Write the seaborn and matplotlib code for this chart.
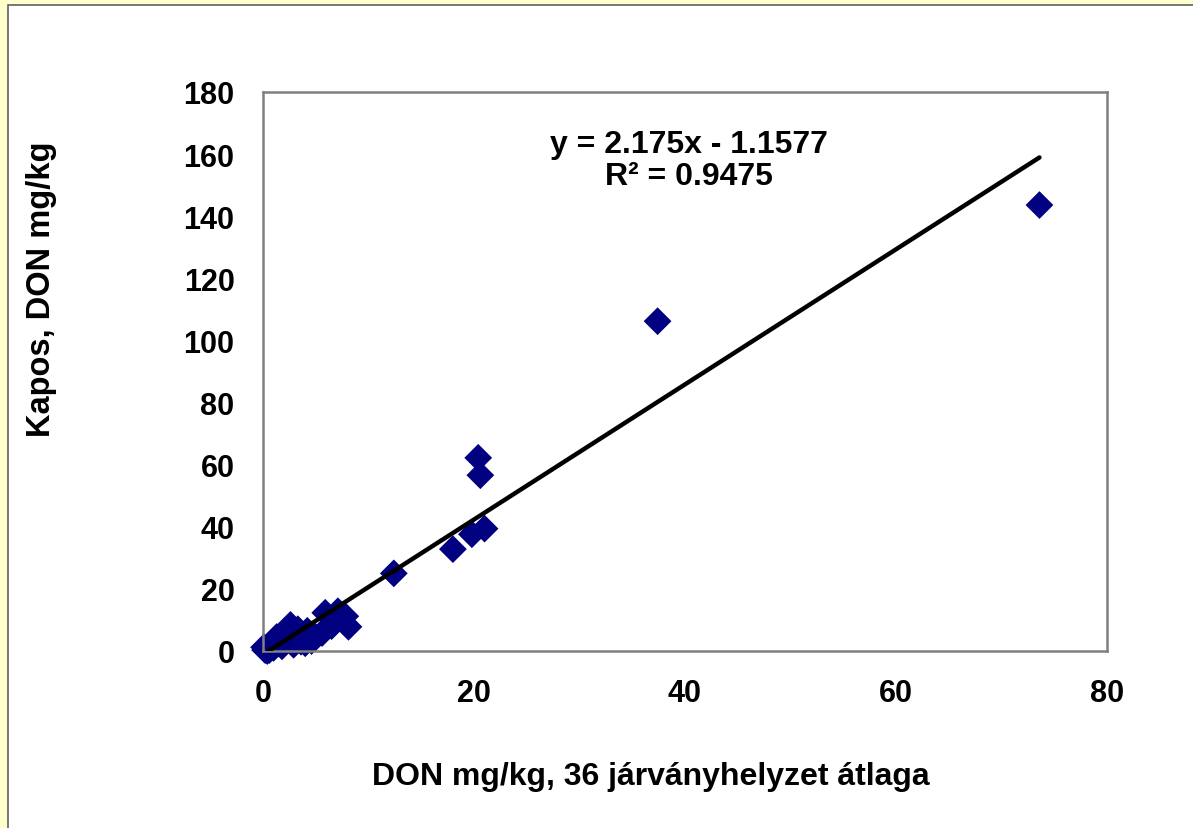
import matplotlib
matplotlib.use("Agg")
import matplotlib.pyplot as plt
import seaborn as sns
import pandas as pd
import numpy as np
from matplotlib.patches import Rectangle

# ---- data ----
x_vals = [73.6, 37.4, 20.4, 20.6, 21.0, 19.8, 18.0, 12.4, 8.1, 7.8, 7.1, 5.9,
          5.6, 5.0, 4.6, 4.2, 3.6, 3.3, 3.0, 2.6, 2.4, 2.0, 1.8, 1.5,
          1.3, 1.0, 0.8, 0.6, 0.5, 0.4, 0.3, 0.2, 0.1, 6.5, 2.9, 4.0]
y_vals = [143.6, 106.2, 62.2, 56.6, 39.4, 37.6, 32.8, 25.0, 7.8, 11.2, 12.8, 12.3,
          5.8, 4.5, 3.2, 6.5, 3.0, 7.0, 5.0, 8.4, 5.5, 3.5, 1.5, 2.5,
          4.5, 1.0, 2.5, 0.3, 1.5, 0.0, 0.8, 0.3, 1.2, 8.0, 2.0, 2.5]
slope = 2.175
intercept = -1.1577
r2 = 0.9475
x_ticks = [0, 20, 40, 60, 80]
y_ticks = [0, 20, 40, 60, 80, 100, 120, 140, 160, 180]
x_label = "DON mg/kg, 36 járványhelyzet átlaga"
y_label = "Kapos, DON mg/kg"

df = pd.DataFrame({"x": x_vals, "y": y_vals})
xmin, xmax = min(x_vals), max(x_vals)
trend = pd.DataFrame({"x": [xmin, xmax],
                      "y": [slope * xmin + intercept, slope * xmax + intercept]})

sns.set_style("white")
plt.rcParams['font.family'] = ['Liberation Sans', 'DejaVu Sans']
plt.rcParams['font.weight'] = 'bold'
plt.rcParams['text.color'] = 'black'
plt.rcParams['axes.labelcolor'] = 'black'

W, H = 1193, 829
fig = plt.figure(figsize=(W / 100, H / 100), dpi=100)
fig.patch.set_facecolor('#FFFFCC')
bg = Rectangle((8 / W, -0.1), 1, 1.1 - 6 / H, transform=fig.transFigure,
               facecolor='white', edgecolor='#606060', linewidth=1.2, zorder=-10)
fig.add_artist(bg)

L, R, T, B = 263, 1107, 93, 652
ax = fig.add_axes([L / W, 1 - B / H, (R - L) / W, (B - T) / H])
ax.set_facecolor('white')

sns.lineplot(data=trend, x="x", y="y", ax=ax, color='black', linewidth=3.2,
             solid_capstyle='round', zorder=3)
sns.scatterplot(data=df, x="x", y="y", ax=ax, marker='D', s=200, color='#000080',
                edgecolor='none', linewidth=0, clip_on=False, zorder=2)

ax.set_xlim(0, 80)
ax.set_ylim(0, 180)
ax.set_xticks(x_ticks)
ax.set_yticks(y_ticks)
ax.tick_params(axis='both', direction='out', length=7.5, width=1.5, color='#808080',
               labelsize=22, labelcolor='black')
ax.tick_params(axis='y', pad=13)
ax.tick_params(axis='x', pad=12)
for lab in ax.get_xticklabels() + ax.get_yticklabels():
    lab.set_fontweight('bold')
for sp in ax.spines.values():
    sp.set_visible(True)
    sp.set_color('#808080')
    sp.set_linewidth(1.8)

ax.set_xlabel(x_label, fontsize=23, fontweight='bold', va='baseline', ha='center')
ax.xaxis.set_label_coords((651 - L) / (R - L), (B - 785) / (B - T))
ax.set_ylabel(y_label, fontsize=23.5, fontweight='bold', va='center', ha='center')
ax.yaxis.set_label_coords((42 - L) / (R - L), (B - 289) / (B - T))

sign = '-' if intercept < 0 else '+'
fig.text(689 / W, 1 - 153 / H, f"y = {slope}x {sign} {abs(intercept)}", ha='center',
         va='baseline', fontsize=23, fontweight='bold', color='black')
fig.text(689 / W, 1 - 185 / H, f"R² = {r2}", ha='center', va='baseline',
         fontsize=23, fontweight='bold', color='black')

fig.savefig("out.png", dpi=100, facecolor=fig.get_facecolor())
